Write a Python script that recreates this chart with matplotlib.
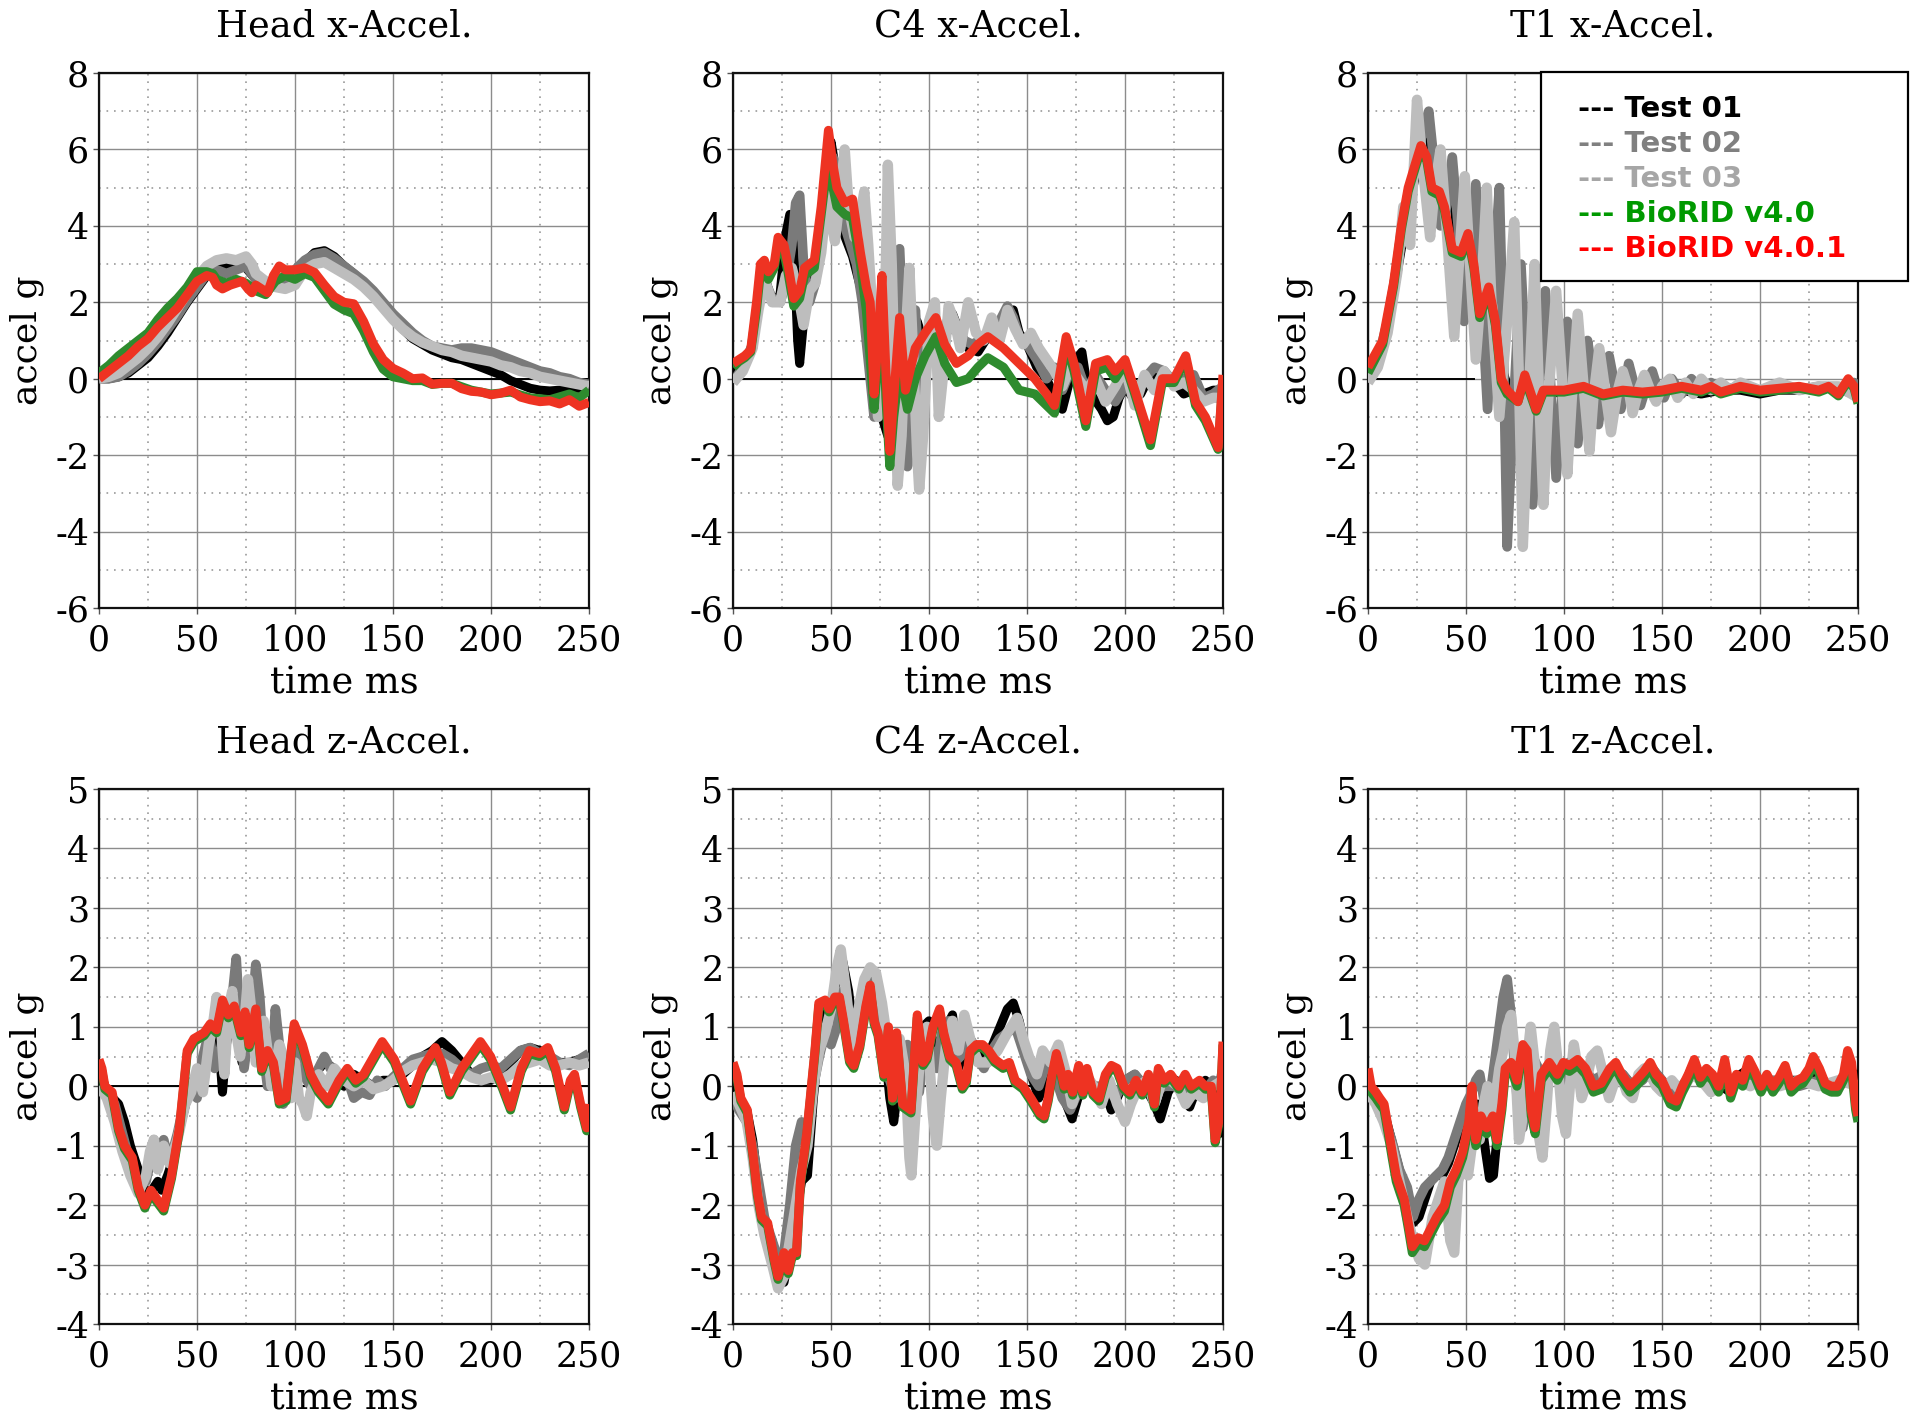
import matplotlib
matplotlib.use("Agg")
import matplotlib.pyplot as plt
from matplotlib.patches import Rectangle
from matplotlib.ticker import MultipleLocator

plt.rcParams["axes.unicode_minus"] = False

# ---------------- data (time ms, accel g) ----------------
titles = ["Head x-Accel.", "C4 x-Accel.", "T1 x-Accel.",
          "Head z-Accel.", "C4 z-Accel.", "T1 z-Accel."]
series_names = ["Test 01", "Test 02", "Test 03", "BioRID v4.0", "BioRID v4.0.1"]
legend_labels = ["--- Test 01", "--- Test 02", "--- Test 03", "--- BioRID v4.0", "--- BioRID v4.0.1"]
x_ticks = [0, 50, 100, 150, 200, 250]
ylim_x = (-6, 8)
ylim_z = (-4, 5)
zero_line_end = [250, 250, 54, 250, 250, 57]

# Head x
hx_t01 = [(0,0.0),(5,0.0),(10,0.05),(15,0.15),(20,0.35),(25,0.55),(30,0.85),(35,1.2),(40,1.6),(45,2.0),(50,2.35),(55,2.7),(60,2.9),(65,3.0),(70,3.0),(75,2.9),(80,2.6),(85,2.4),(90,2.45),(95,2.55),(100,2.75),(105,3.05),(110,3.3),(115,3.35),(120,3.2),(125,2.95),(130,2.75),(135,2.5),(140,2.2),(145,1.9),(150,1.6),(155,1.3),(160,1.05),(165,0.9),(170,0.75),(175,0.65),(180,0.55),(185,0.5),(190,0.4),(195,0.3),(200,0.2),(205,0.1),(210,-0.05),(215,-0.15),(220,-0.25),(225,-0.3),(230,-0.32),(235,-0.3),(240,-0.25),(245,-0.25),(250,-0.3)]
hx_t02 = [(0,0.0),(5,0.0),(10,0.05),(15,0.2),(20,0.4),(25,0.65),(30,0.95),(35,1.3),(40,1.65),(45,2.05),(50,2.4),(55,2.75),(60,2.85),(65,2.75),(70,2.85),(75,2.95),(80,2.6),(85,2.45),(90,2.5),(95,2.6),(100,2.85),(105,3.1),(110,3.25),(115,3.3),(120,3.15),(125,2.95),(130,2.75),(135,2.55),(140,2.3),(145,2.0),(150,1.7),(155,1.45),(160,1.2),(165,1.0),(170,0.85),(175,0.8),(180,0.75),(185,0.8),(190,0.8),(195,0.75),(200,0.7),(205,0.6),(210,0.5),(215,0.4),(220,0.3),(225,0.2),(230,0.15),(235,0.05),(240,0.0),(245,-0.1),(250,-0.15)]
hx_t03 = [(0,0.0),(5,0.05),(10,0.15),(15,0.35),(20,0.55),(25,0.8),(30,1.1),(35,1.45),(40,1.85),(45,2.25),(50,2.65),(55,2.95),(60,3.1),(65,3.15),(70,3.1),(75,3.2),(78,3.0),(80,2.75),(85,2.55),(90,2.4),(95,2.35),(100,2.45),(105,2.85),(110,3.0),(115,3.05),(120,2.9),(125,2.75),(130,2.6),(135,2.4),(140,2.15),(145,1.85),(150,1.55),(155,1.3),(160,1.1),(165,0.95),(170,0.85),(175,0.75),(180,0.7),(185,0.6),(190,0.55),(195,0.5),(200,0.45),(205,0.35),(210,0.3),(215,0.2),(220,0.15),(225,0.05),(230,0.0),(235,-0.05),(240,-0.1),(245,-0.15),(250,-0.2)]
hx_v40 = [(0,0.15),(5,0.35),(10,0.6),(15,0.8),(20,1.0),(25,1.2),(30,1.55),(35,1.85),(40,2.1),(45,2.4),(50,2.8),(55,2.8),(58,2.75),(60,2.6),(65,2.5),(70,2.6),(75,2.5),(80,2.3),(85,2.2),(90,2.55),(95,2.7),(100,2.6),(105,2.75),(110,2.65),(115,2.3),(120,1.95),(125,1.8),(130,1.7),(135,1.25),(140,0.7),(145,0.25),(150,0.05),(155,0.0),(160,-0.05),(165,-0.05),(170,-0.15),(175,-0.12),(180,-0.12),(190,-0.3),(200,-0.4),(210,-0.35),(220,-0.5),(230,-0.55),(240,-0.4),(245,-0.5),(250,-0.3)]
hx_v401 = [(0,0.0),(5,0.2),(10,0.4),(15,0.6),(20,0.85),(25,1.05),(30,1.35),(35,1.6),(40,1.85),(45,2.2),(50,2.55),(55,2.7),(58,2.65),(60,2.45),(63,2.35),(67,2.45),(70,2.5),(73,2.55),(76,2.35),(78,2.25),(80,2.45),(83,2.35),(86,2.25),(89,2.7),(92,2.95),(95,2.85),(100,2.85),(105,2.9),(110,2.78),(115,2.45),(120,2.15),(125,2.0),(130,1.96),(135,1.5),(140,0.91),(145,0.5),(150,0.27),(155,0.15),(160,0.0),(165,0.02),(170,-0.14),(175,-0.12),(180,-0.12),(185,-0.26),(190,-0.33),(195,-0.35),(200,-0.42),(205,-0.38),(210,-0.3),(215,-0.48),(220,-0.55),(225,-0.6),(230,-0.58),(235,-0.66),(240,-0.55),(245,-0.72),(250,-0.62)]

# C4 x
cx_t01 = [(0,0.2),(5,0.4),(10,0.8),(13,2.0),(16,2.7),(20,2.0),(24,2.2),(27,3.8),(29,4.3),(31,3.5),(33,1.0),(34,0.4),(36,1.5),(39,2.6),(42,2.8),(45,3.5),(48,5.5),(50,6.2),(52,5.6),(55,4.0),(58,3.6),(61,3.2),(64,2.6),(67,2.0),(70,0.5),(73,-0.5),(76,-1.0),(79,-1.5),(82,-0.3),(85,-1.0),(88,0.5),(91,-1.3),(94,1.5),(97,1.0),(100,1.2),(104,1.4),(108,1.0),(112,1.7),(115,1.3),(120,0.8),(125,0.7),(130,1.1),(135,1.4),(140,1.7),(143,1.8),(146,1.2),(150,0.9),(155,0.3),(160,0.0),(165,-0.6),(168,-0.8),(171,-0.2),(175,0.5),(178,0.7),(181,-0.3),(184,-0.5),(188,-0.8),(191,-1.1),(194,-1.0),(197,-0.5),(200,-0.2),(204,-0.5),(208,-0.4),(212,0.0),(216,0.1),(220,0.1),(225,-0.1),(230,-0.4),(235,-0.3),(240,-0.4),(245,-0.3),(250,-0.3)]
cx_t02 = [(0,-0.1),(5,0.3),(10,0.9),(13,2.0),(16,2.6),(20,2.1),(24,2.0),(27,2.5),(30,3.5),(32,4.6),(34,4.8),(36,3.0),(39,2.0),(42,2.5),(45,3.8),(48,5.0),(51,5.8),(54,5.2),(57,4.0),(60,3.5),(63,3.0),(66,2.0),(69,0.5),(72,-1.0),(75,-0.5),(78,0.5),(82,1.0),(85,3.4),(87,1.0),(89,-2.3),(91,-1.0),(93,1.8),(96,-0.5),(99,0.8),(102,1.2),(106,1.0),(110,1.6),(114,1.4),(118,1.0),(122,0.9),(126,1.0),(130,1.2),(135,1.4),(140,1.9),(143,1.6),(146,1.1),(150,0.9),(155,0.5),(160,0.0),(164,0.3),(168,-0.3),(172,0.2),(176,0.3),(180,-0.3),(185,0.1),(190,-0.3),(195,-0.6),(200,-0.2),(205,-0.3),(210,0.0),(215,0.3),(220,0.2),(225,-0.1),(230,0.0),(235,0.1),(240,-0.5),(245,-0.4),(250,-0.2)]
cx_t03 = [(0,-0.1),(5,0.2),(10,0.8),(13,1.8),(16,2.6),(20,2.0),(24,2.0),(27,2.7),(30,2.9),(33,2.3),(36,1.4),(39,2.3),(42,2.5),(45,3.3),(48,4.8),(50,4.2),(52,3.6),(54,4.5),(57,6.0),(59,4.5),(62,3.7),(65,4.3),(67,4.9),(69,3.5),(72,1.0),(74,-1.0),(76,0.0),(78,3.0),(79,5.6),(81,3.0),(83,-1.0),(84,-2.8),(86,-1.5),(88,1.0),(90,2.9),(92,0.5),(94,-2.0),(95,-2.9),(97,-1.5),(100,1.5),(103,2.0),(105,-1.0),(107,0.0),(110,1.9),(113,1.5),(116,0.8),(120,2.0),(124,1.2),(128,1.0),(132,1.6),(136,1.0),(140,1.8),(144,1.3),(148,0.9),(152,1.2),(156,0.8),(160,0.5),(164,0.2),(168,-0.2),(172,0.3),(176,0.0),(180,-0.3),(185,0.0),(190,-0.6),(195,-0.2),(200,0.3),(205,-0.7),(210,0.1),(215,-0.3),(220,0.2),(225,-0.2),(230,-0.1),(235,-0.3),(240,-0.6),(245,-0.5),(250,-0.5)]
cx_v40 = [(0,0.3),(3,0.45),(6,0.55),(9,0.7),(12,1.8),(14,2.8),(16,2.9),(18,2.6),(21,2.9),(23,3.5),(26,3.3),(28,2.8),(31,1.9),(34,2.1),(36.5,2.7),(41.5,2.9),(45,4.3),(48.7,5.8),(51,5.0),(53,4.5),(57,4.3),(61,4.2),(65,3.0),(68,1.8),(70,0.5),(72,-0.8),(74,0.5),(76,2.3),(78,-0.5),(80,-2.3),(82,-1.0),(85,0.3),(89,-0.8),(93,0.0),(98,0.6),(103.5,1.1),(108,0.4),(114,-0.1),(120,0.0),(125,0.3),(130,0.55),(138,0.3),(146,-0.3),(154,-0.4),(160,-0.7),(164,-0.9),(167,0.0),(170,0.9),(174,0.2),(180,-1.25),(185,0.2),(191,0.3),(195,0.0),(200,0.4),(205,-0.4),(213,-1.75),(219,-0.1),(225,-0.1),(231,0.5),(236,-0.7),(241,-1.1),(247.5,-1.85),(250,0.0)]
cx_v401 = [(0,0.4),(3,0.5),(6,0.6),(9,0.75),(12,2.0),(14,3.0),(16,3.1),(18,2.8),(21,3.0),(23,3.7),(26,3.5),(28,3.0),(31,2.1),(34,2.3),(36.5,2.9),(41.5,3.1),(45,4.5),(48.7,6.5),(51,5.6),(53,5.0),(57,4.6),(61,4.7),(65,3.3),(68,2.4),(70,2.0),(72,-0.4),(74,1.0),(76,2.7),(78,0.2),(80,-1.9),(82,-0.5),(85,1.6),(88,-0.3),(93,0.8),(98,1.2),(103.5,1.6),(108,0.9),(114,0.4),(120,0.6),(125,0.9),(130,1.1),(138,0.8),(146,0.4),(154,0.0),(160,-0.4),(164,-0.7),(167,0.2),(170,1.1),(174,0.4),(180,-1.1),(185,0.4),(191,0.5),(195,0.2),(200,0.5),(205,-0.3),(213,-1.6),(219,0.0),(225,0.0),(231,0.6),(236,-0.6),(241,-1.0),(247.5,-1.8),(250,0.1)]

# T1 x
tx_t01 = [(0,0.0),(5,0.4),(10,1.3),(15,2.8),(20,4.3),(25,5.5),(30,6.2),(33,5.5),(36,4.5),(40,4.8),(44,4.0),(48,3.2),(52,3.5),(56,2.5),(60,2.0),(64,1.5),(68,0.3),(72,-0.3),(76,-0.6),(80,0.0),(85,-0.7),(90,-0.3),(100,-0.4),(110,-0.3),(120,-0.4),(130,-0.3),(140,-0.4),(150,-0.3),(160,-0.3),(170,-0.4),(180,-0.3),(190,-0.3),(200,-0.4),(210,-0.3),(220,-0.3),(230,-0.2),(240,-0.3),(250,-0.4)]
tx_t02 = [(0,0.0),(5,0.5),(10,1.5),(15,3.0),(20,4.5),(24,5.5),(28,6.5),(31,7.0),(34,5.5),(37,4.0),(40,4.5),(43,5.8),(46,4.0),(49,1.5),(52,3.0),(55,5.1),(58,2.0),(61,-0.8),(64,2.5),(67,5.0),(69,1.0),(71,-4.4),(74,-1.0),(78,3.0),(81,0.0),(84,-3.3),(87,-0.5),(90.5,2.3),(93,0.0),(96,-2.6),(99,-0.5),(101.7,1.5),(104,0.0),(107,-1.7),(110,-0.3),(112,1.0),(115,0.0),(117.5,-1.2),(120,-0.3),(123,0.6),(126,-0.2),(129,-0.8),(131,-0.2),(133,0.4),(136,-0.2),(139,-0.7),(142,-0.2),(145,0.2),(148,-0.3),(151,-0.5),(155,0.0),(160,-0.4),(165,0.0),(170,-0.3),(175,-0.1),(180,-0.3),(190,-0.2),(200,-0.3),(210,-0.2),(220,-0.3),(230,-0.2),(240,-0.3),(248,-0.1),(250,-0.5)]
tx_t03 = [(0,-0.1),(5,0.3),(10,1.2),(15,2.8),(18,4.5),(21.5,3.5),(25,7.3),(28,5.5),(31.7,3.7),(34,5.0),(37,6.0),(40,4.0),(44,1.1),(47,3.5),(49.4,5.3),(52,3.0),(55,0.5),(58,2.5),(60.6,5.0),(63,2.0),(67,-1.0),(71,1.5),(74.6,4.1),(77,0.0),(79,-4.4),(82,-0.5),(85,3.0),(87,0.0),(89.5,-3.3),(92,-0.5),(96,2.3),(99,0.0),(101.7,-2.5),(104,-0.5),(107,1.7),(110,-0.2),(113,-1.9),(115,-0.5),(118,0.8),(121,-0.3),(124,-1.4),(127,-0.4),(130,0.2),(133,-0.3),(135,-0.9),(138,-0.3),(141,0.1),(144,-0.3),(147,-0.6),(150,-0.2),(154,0.0),(158,-0.5),(162,-0.1),(166,-0.4),(170,0.0),(175,-0.3),(180,-0.1),(185,-0.3),(190,-0.1),(200,-0.3),(210,-0.1),(220,-0.3),(230,-0.2),(240,-0.2),(250,-0.5)]
tx_v40 = [(0,0.15),(7.5,0.9),(13,2.4),(17,3.9),(20.5,4.9),(24,5.5),(27,6.0),(30,5.7),(32.6,4.9),(36.4,4.8),(39,4.4),(43,3.3),(47.5,3.2),(51,3.7),(54,2.9),(57,1.6),(61.6,2.3),(65,1.4),(68,-0.1),(71,-0.4),(76.5,-0.6),(80,0.0),(85.8,-0.85),(89.5,-0.35),(100,-0.35),(110,-0.25),(120,-0.45),(130,-0.35),(140,-0.4),(150,-0.35),(160,-0.25),(170,-0.35),(175,-0.25),(180,-0.4),(190,-0.25),(200,-0.35),(210,-0.3),(220,-0.25),(230,-0.35),(235,-0.25),(240,-0.45),(245,-0.05),(248,-0.25),(250,-0.65)]
tx_v401 = [(0,0.3),(7.5,1.0),(13,2.5),(17,4.0),(20.5,5.0),(24,5.6),(27,6.1),(30,5.8),(32.6,5.0),(36.4,4.9),(39,4.5),(43,3.4),(47.5,3.3),(51,3.8),(54,3.0),(57,1.7),(61.6,2.4),(65,1.5),(68,0.0),(71,-0.3),(76.5,-0.6),(80,0.1),(85.8,-0.8),(89.5,-0.3),(100,-0.3),(110,-0.2),(120,-0.4),(130,-0.3),(140,-0.35),(150,-0.3),(160,-0.2),(170,-0.3),(175,-0.2),(180,-0.35),(190,-0.2),(200,-0.3),(210,-0.25),(220,-0.2),(230,-0.3),(235,-0.2),(240,-0.4),(245,0.0),(248,-0.2),(250,-0.6)]

# Head z
hz_t01 = [(0,0.3),(3,0.0),(7,-0.2),(10,-0.3),(13,-0.6),(16,-1.0),(20,-1.4),(24,-1.8),(27,-1.75),(30,-1.6),(32,-1.75),(35,-1.5),(38,-1.2),(42,-0.6),(45,-0.2),(48,0.1),(51,0.0),(54,0.3),(57,0.5),(59,1.0),(61,0.8),(63,-0.1),(65,0.7),(67,1.1),(70,0.9),(73,0.4),(76,0.6),(79,1.0),(82,0.7),(86,0.4),(90,0.3),(95,0.2),(100,0.5),(105,0.3),(110,0.2),(115,0.4),(120,0.3),(125,0.0),(130,0.2),(135,0.1),(140,0.0),(145,0.1),(150,0.1),(155,0.2),(160,0.35),(165,0.5),(170,0.6),(175,0.75),(180,0.6),(185,0.4),(190,0.2),(195,0.1),(200,0.1),(205,0.2),(210,0.4),(215,0.6),(220,0.65),(225,0.6),(230,0.45),(235,0.4),(240,0.4),(245,0.45),(250,0.5)]
hz_t02 = [(0,0.0),(4,-0.1),(8,-0.3),(12,-0.8),(16,-1.3),(20,-1.7),(24,-1.6),(26,-1.3),(28,-0.9),(30,-1.2),(33,-0.9),(36,-1.3),(40,-0.8),(44,-0.2),(47,0.0),(50,-0.2),(53,0.5),(56,0.9),(59,0.3),(62,0.6),(65,1.2),(68,1.5),(70,2.15),(72,1.0),(74,0.3),(76,0.8),(78,1.2),(80,2.05),(82,1.5),(84,0.5),(86,0.0),(88,0.3),(90,1.3),(92,0.7),(94,-0.3),(96,0.0),(98,0.4),(100,0.6),(104,0.2),(108,0.0),(112,0.3),(115,0.5),(118,0.3),(122,0.1),(126,0.2),(130,-0.2),(134,-0.1),(138,-0.15),(142,0.1),(146,0.0),(150,0.15),(155,0.3),(160,0.45),(165,0.5),(170,0.55),(175,0.55),(180,0.45),(185,0.3),(190,0.2),(195,0.3),(200,0.35),(205,0.3),(210,0.45),(215,0.6),(220,0.65),(225,0.55),(230,0.5),(235,0.4),(240,0.35),(245,0.45),(250,0.55)]
hz_t03 = [(0,0.0),(4,-0.2),(8,-0.6),(12,-1.1),(16,-1.5),(20,-1.8),(24,-1.5),(26,-1.1),(28,-0.9),(30,-1.4),(33,-1.0),(36,-1.3),(40,-0.9),(44,-0.3),(47,-0.1),(50,0.3),(53,-0.1),(56,0.7),(58,1.0),(60,1.5),(62,1.1),(64,0.2),(66,1.3),(68,1.6),(70,0.9),(72,0.5),(74,1.0),(76,1.8),(78,1.2),(80,0.4),(82,0.7),(84,1.1),(86,0.6),(88,0.0),(90,0.3),(92,0.7),(94,0.5),(96,0.0),(98,-0.2),(100,0.4),(102,-0.2),(104,-0.3),(106,-0.5),(108,-0.1),(112,0.2),(116,0.0),(120,0.3),(125,0.1),(130,0.0),(135,0.1),(140,-0.05),(145,0.0),(150,0.1),(155,0.25),(160,0.35),(165,0.4),(170,0.45),(175,0.4),(180,0.3),(185,0.25),(190,0.15),(195,0.1),(200,0.15),(205,0.1),(210,0.2),(215,0.35),(220,0.4),(225,0.45),(230,0.35),(235,0.35),(240,0.4),(245,0.35),(250,0.4)]
hz_v40 = [(0,0.4),(1.5,0.25),(3,-0.05),(6.7,-0.15),(10,-0.75),(13,-1.05),(17,-1.25),(20,-1.75),(23.4,-2.05),(26.5,-1.8),(29.6,-1.95),(33,-2.1),(37,-1.55),(41,-0.75),(45,0.55),(48.4,0.75),(53.6,0.85),(56.8,1.0),(60,0.9),(63,1.4),(66,1.15),(69,1.3),(72.4,0.85),(74.5,1.2),(76.6,0.65),(80,1.25),(83,0.25),(86,0.55),(89,0.35),(92,-0.3),(95.4,-0.25),(99.6,1.0),(103.8,0.65),(108,0.15),(112,-0.1),(117,-0.3),(122.5,0.05),(126.7,0.25),(131,0.05),(135,0.15),(144.5,0.7),(150.7,0.4),(156,-0.05),(159,-0.3),(165,0.25),(171.6,0.6),(174.7,0.35),(179,-0.15),(185,0.25),(194.6,0.7),(199.8,0.45),(206,-0.05),(210,-0.4),(215.4,0.25),(219.6,0.55),(224.8,0.5),(229,0.6),(233,0.25),(237.4,-0.4),(240.5,0.05),(242.6,0.15),(245.7,-0.35),(248.8,-0.75),(250,-0.35)]
hz_v401 = [(0,0.45),(1.5,0.3),(3,0.0),(6.7,-0.1),(10,-0.7),(13,-1.0),(17,-1.2),(20,-1.7),(23.4,-2.0),(26.5,-1.75),(29.6,-1.9),(33,-2.05),(37,-1.5),(41,-0.7),(45,0.6),(48.4,0.8),(53.6,0.9),(56.8,1.05),(60,0.95),(63,1.45),(66,1.2),(69,1.35),(72.4,0.9),(74.5,1.25),(76.6,0.7),(80,1.3),(83,0.3),(86,0.6),(89,0.4),(92,-0.25),(95.4,-0.2),(99.6,1.05),(103.8,0.7),(108,0.2),(112,-0.05),(117,-0.25),(122.5,0.1),(126.7,0.3),(131,0.1),(135,0.2),(144.5,0.75),(150.7,0.45),(156,0.0),(159,-0.25),(165,0.3),(171.6,0.65),(174.7,0.4),(179,-0.1),(185,0.3),(194.6,0.75),(199.8,0.5),(206,0.0),(210,-0.35),(215.4,0.3),(219.6,0.6),(224.8,0.55),(229,0.65),(233,0.3),(237.4,-0.35),(240.5,0.1),(242.6,0.2),(245.7,-0.3),(248.8,-0.7),(250,-0.3)]

# C4 z
cz_t01 = [(0,0.0),(3,-0.3),(7,-0.4),(10,-0.9),(13,-1.7),(16,-2.3),(20,-2.6),(23,-3.1),(26,-3.3),(29,-2.8),(32,-2.2),(35,-1.6),(38,-1.5),(41,-0.2),(44,0.8),(47,1.2),(50,1.4),(53,1.8),(56,2.1),(59,1.6),(62,0.8),(65,1.0),(68,1.6),(71,1.9),(74,1.6),(77,0.8),(80,-0.2),(82,-0.6),(85,0.2),(88,0.5),(91,-0.2),(94,0.0),(97,1.0),(100,1.1),(103,0.5),(106,0.8),(109,1.0),(112,1.2),(115,0.3),(118,0.6),(121,0.8),(125,0.6),(130,0.5),(135,0.9),(140,1.3),(143,1.4),(146,1.1),(150,0.5),(153,0.1),(156,-0.2),(160,0.1),(165,0.4),(170,-0.3),(173,-0.55),(176,-0.2),(180,0.0),(185,-0.1),(190,-0.1),(193,-0.4),(196,-0.2),(200,0.1),(205,0.2),(210,0.0),(215,-0.3),(218,-0.55),(222,-0.1),(226,0.1),(230,-0.2),(233,-0.35),(237,0.0),(241,0.1),(245,-0.1),(248,-0.8),(250,0.2)]
cz_t02 = [(0,-0.2),(3,-0.4),(7,-0.6),(10,-1.0),(13,-1.6),(16,-2.2),(20,-2.6),(23,-2.9),(26,-2.8),(29,-2.0),(32,-1.0),(35,-0.6),(38,-0.9),(41,0.0),(44,0.5),(47,0.9),(50,0.7),(53,1.0),(56,1.6),(59,0.9),(62,0.5),(65,1.1),(68,1.5),(71,1.8),(74,1.2),(77,0.6),(80,0.1),(83,-0.2),(86,0.5),(89,0.7),(92,0.0),(95,-0.1),(98,0.8),(101,0.6),(104,0.3),(107,1.0),(110,1.1),(113,0.4),(116,0.5),(120,0.7),(124,0.5),(128,0.3),(132,0.6),(136,0.8),(140,0.9),(144,1.0),(148,0.6),(152,0.2),(156,0.0),(160,0.4),(164,0.2),(168,-0.2),(172,-0.4),(176,-0.1),(180,0.1),(185,0.0),(190,0.0),(195,-0.2),(200,0.1),(205,0.2),(210,0.0),(215,-0.1),(220,0.0),(225,0.0),(230,-0.1),(235,0.0),(240,-0.1),(245,0.1),(248,0.0),(250,0.3)]
cz_t03 = [(0,-0.1),(3,-0.3),(7,-0.6),(10,-1.2),(13,-2.0),(16,-2.5),(20,-3.0),(23,-3.4),(26,-3.2),(29,-2.6),(32,-2.0),(35,-1.4),(38,-1.0),(41,0.0),(44,0.6),(47,0.9),(50,1.3),(53,2.0),(55,2.3),(58,1.5),(61,0.6),(64,1.3),(67,1.8),(70,2.0),(73,1.9),(76,1.4),(79,0.7),(82,0.2),(85,0.8),(88,0.2),(90,-1.2),(91,-1.5),(93,-0.5),(96,0.7),(99,1.0),(102,-0.5),(104,-1.0),(106,-0.2),(109,0.8),(112,1.1),(115,0.6),(118,1.2),(121,0.8),(125,0.4),(130,0.4),(135,0.6),(140,0.9),(145,1.15),(148,0.8),(151,0.5),(155,0.2),(158,0.6),(162,0.4),(166,0.7),(170,0.2),(173,-0.3),(176,0.0),(180,0.2),(184,0.0),(188,-0.3),(192,0.1),(196,-0.3),(200,-0.6),(203,-0.3),(207,0.0),(211,0.1),(215,-0.3),(219,0.1),(223,0.1),(227,0.0),(231,-0.3),(235,-0.1),(240,-0.2),(245,0.0),(250,0.1)]
cz_v40 = [(0,0.35),(2,0.15),(4,-0.25),(7.3,-0.45),(10.4,-1.25),(12.5,-1.85),(14.6,-2.25),(17.7,-2.35),(21,-2.95),(23,-3.25),(26,-2.85),(28.2,-3.15),(30.3,-2.85),(32.4,-2.85),(34.4,-1.65),(37.6,-0.85),(39.7,-0.15),(41.8,0.55),(43.8,1.35),(47,1.4),(49,1.25),(52,1.45),(54.3,1.45),(56.4,1.05),(59.5,0.4),(61.6,0.3),(64.7,0.65),(67.8,1.3),(70,1.65),(72,1.05),(74,0.85),(77,0.15),(79.3,0.95),(81.4,-0.25),(83.5,0.85),(86.6,-0.35),(90.8,-0.45),(94,1.15),(97,0.35),(99,0.45),(102,0.95),(105.4,1.25),(107.5,0.85),(110.6,0.45),(113.8,0.35),(117,-0.05),(119,0.05),(121,0.55),(124.2,0.65),(127.3,0.65),(130.5,0.55),(133.6,0.4),(137.8,0.3),(141,0.35),(144,0.05),(148,-0.05),(152,-0.25),(156.6,-0.5),(158.7,-0.55),(160.8,-0.25),(162.8,0.15),(165,0.5),(167,0.25),(169,-0.05),(171,0.15),(173.3,-0.15),(176.4,0.3),(178.5,-0.15),(180.6,0.25),(183.7,-0.15),(186.8,-0.25),(190,0.15),(193,0.3),(196,0.25),(199.4,-0.05),(202.5,-0.15),(205.6,0.05),(208.8,-0.15),(212,0.15),(215,-0.35),(217,0.25),(220,0.05),(223.3,0.15),(227.5,-0.05),(230.7,0.15),(233.8,-0.05),(238,0.05),(241,-0.05),(244,-0.05),(246,-0.95),(248.4,-0.55),(250,0.7)]
cz_v401 = [(0,0.4),(2,0.2),(4,-0.2),(7.3,-0.4),(10.4,-1.2),(12.5,-1.8),(14.6,-2.2),(17.7,-2.3),(21,-2.9),(23,-3.2),(26,-2.8),(28.2,-3.1),(30.3,-2.8),(32.4,-2.8),(34.4,-1.6),(37.6,-0.8),(39.7,-0.1),(41.8,0.6),(43.8,1.4),(47,1.45),(49,1.3),(52,1.5),(54.3,1.5),(56.4,1.1),(59.5,0.45),(61.6,0.35),(64.7,0.7),(67.8,1.35),(70,1.7),(72,1.1),(74,0.9),(77,0.2),(79.3,1.0),(81.4,-0.2),(83.5,0.9),(86.6,-0.3),(90.8,-0.4),(94,1.2),(97,0.4),(99,0.5),(102,1.0),(105.4,1.3),(107.5,0.9),(110.6,0.5),(113.8,0.4),(117,0.0),(119,0.1),(121,0.6),(124.2,0.7),(127.3,0.7),(130.5,0.6),(133.6,0.45),(137.8,0.35),(141,0.4),(144,0.1),(148,0.0),(152,-0.2),(156.6,-0.45),(158.7,-0.5),(160.8,-0.2),(162.8,0.2),(165,0.55),(167,0.3),(169,0.0),(171,0.2),(173.3,-0.1),(176.4,0.35),(178.5,-0.1),(180.6,0.3),(183.7,-0.1),(186.8,-0.2),(190,0.2),(193,0.35),(196,0.3),(199.4,0.0),(202.5,-0.1),(205.6,0.1),(208.8,-0.1),(212,0.2),(215,-0.3),(217,0.3),(220,0.1),(223.3,0.2),(227.5,0.0),(230.7,0.2),(233.8,0.0),(238,0.1),(241,0.0),(244,0.0),(246,-0.9),(248.4,-0.5),(250,0.75)]

# T1 z
tz_t01 = [(0,0.0),(4,-0.2),(8,-0.4),(12,-0.9),(16,-1.4),(20,-1.8),(23,-2.3),(26,-2.2),(29,-1.9),(32,-1.6),(35,-1.5),(38,-1.5),(41,-1.3),(44,-1.0),(47,-0.7),(50,-0.5),(53,-0.4),(56,-0.3),(58,-0.6),(60,-1.1),(62,-1.55),(64,-1.5),(66,-0.8),(68,0.0),(70,0.3),(73,0.4),(76,0.1),(79,0.5),(82,0.2),(85,-0.3),(88,0.2),(92,0.3),(96,0.2),(100,0.35),(105,0.45),(110,0.3),(115,0.1),(120,0.1),(125,0.3),(130,0.2),(135,0.0),(140,0.2),(145,0.3),(150,0.1),(155,-0.1),(160,-0.1),(165,0.3),(170,0.2),(175,0.1),(180,0.0),(185,-0.1),(190,0.2),(195,0.3),(200,0.1),(205,0.0),(210,0.1),(215,0.1),(220,0.1),(225,0.2),(230,0.2),(235,0.0),(240,0.0),(245,0.2),(250,0.2)]
tz_t02 = [(0,0.0),(4,-0.2),(8,-0.5),(12,-0.9),(16,-1.4),(20,-1.7),(23,-2.2),(26,-1.9),(29,-1.7),(32,-1.6),(35,-1.5),(38,-1.4),(41,-1.2),(44,-0.9),(47,-0.6),(50,-0.3),(53,-0.1),(55,0.1),(57,0.2),(59,-0.2),(61,-0.5),(63,0.0),(65,0.5),(67,1.0),(69,1.5),(71,1.8),(73,1.2),(75,0.2),(77,-0.5),(79,-0.7),(81,-0.1),(84,0.5),(87,0.3),(90,0.0),(93,0.4),(96,0.5),(99,0.1),(102,0.2),(105,0.4),(110,0.3),(115,0.1),(120,0.2),(125,0.3),(130,0.2),(135,0.0),(140,0.1),(145,0.3),(150,0.1),(155,-0.1),(160,0.0),(165,0.2),(170,0.2),(175,0.0),(180,0.1),(185,0.0),(190,0.1),(195,0.2),(200,0.1),(210,0.1),(220,0.0),(230,0.1),(240,0.0),(245,0.1),(250,0.0)]
tz_t03 = [(0,-0.1),(4,-0.3),(8,-0.6),(12,-1.0),(16,-1.6),(20,-2.2),(23,-2.6),(26,-2.9),(29,-3.0),(31,-2.6),(33,-2.2),(36,-1.9),(39,-1.6),(42,-2.6),(44,-2.8),(46,-1.6),(49,-1.2),(51,-1.5),(53,-1.0),(55,-0.6),(57,-0.9),(59,-0.3),(61,0.0),(63,-0.5),(65,-0.2),(67,0.3),(69,0.6),(71,1.0),(73,1.2),(75,0.5),(77,-0.9),(79,-0.5),(81,0.4),(83,1.0),(85,0.4),(87,-0.8),(89,-1.2),(91,-0.4),(93,0.6),(95,1.0),(97,0.3),(99,-0.5),(101,-0.8),(103,0.0),(105,0.7),(107,0.3),(109,-0.2),(111,0.0),(114,0.5),(117,0.6),(120,0.2),(123,-0.2),(126,0.1),(129,0.2),(132,-0.1),(135,-0.2),(138,0.2),(141,0.3),(144,0.2),(147,0.0),(150,-0.1),(155,0.1),(160,-0.1),(165,0.2),(170,0.1),(175,-0.1),(180,0.1),(185,0.0),(190,0.1),(195,0.0),(200,0.1),(210,0.0),(220,0.1),(230,0.0),(240,0.1),(250,0.0)]
tz_v40 = [(0,0.2),(1.6,-0.1),(4,-0.2),(6,-0.3),(8.2,-0.4),(10.3,-0.8),(12.3,-1.2),(14.4,-1.6),(16.4,-1.8),(18.5,-2.0),(20.6,-2.4),(22.6,-2.8),(25.7,-2.65),(28.8,-2.7),(31.9,-2.5),(35,-2.3),(39,-2.1),(42,-1.7),(45,-1.5),(48.3,-1.2),(51.4,-0.7),(53,-0.1),(55,-1.0),(57.6,-0.6),(60.6,-0.8),(63.7,-0.6),(65.8,-1.0),(68.3,-0.4),(70,0.2),(73,0.3),(76,0.0),(79,0.6),(81.2,0.5),(83.3,-0.5),(85.3,-0.8),(88.4,0.1),(92.5,0.3),(96.6,0.1),(99.7,0.3),(102.8,0.25),(107,0.35),(111,0.2),(115,-0.1),(119,-0.05),(123.4,0.2),(126.4,0.3),(129.5,0.1),(133.6,-0.1),(136.7,0.0),(140.8,0.15),(144,0.3),(147,0.1),(150,0.0),(154.2,-0.3),(157.3,-0.35),(160.4,-0.1),(163.4,0.1),(166.5,0.35),(169.6,0.05),(172.7,0.2),(175.8,0.1),(178.9,-0.1),(182,0.35),(185,-0.2),(188,0.1),(191.2,0.0),(194.3,0.35),(197.4,0.15),(200.5,-0.1),(203.5,0.1),(206.6,-0.1),(209.7,0.05),(212.8,0.25),(215.9,-0.1),(219,0.0),(222,0.05),(225,0.2),(227.2,0.4),(230.3,0.2),(233.3,-0.05),(236.4,-0.1),(239.5,-0.1),(242.6,0.1),(244.7,0.5),(246.7,0.3),(248.8,-0.4),(250,-0.6)]
tz_v401 = [(0,0.3),(1.6,0.0),(4,-0.1),(6,-0.2),(8.2,-0.3),(10.3,-0.7),(12.3,-1.1),(14.4,-1.5),(16.4,-1.7),(18.5,-1.9),(20.6,-2.3),(22.6,-2.7),(25.7,-2.55),(28.8,-2.6),(31.9,-2.4),(35,-2.2),(39,-2.0),(42,-1.6),(45,-1.4),(48.3,-1.1),(51.4,-0.6),(53,0.0),(55,-0.9),(57.6,-0.5),(60.6,-0.7),(63.7,-0.5),(65.8,-0.9),(68.3,-0.3),(70,0.3),(73,0.4),(76,0.1),(79,0.7),(81.2,0.6),(83.3,-0.4),(85.3,-0.7),(88.4,0.2),(92.5,0.4),(96.6,0.2),(99.7,0.4),(102.8,0.35),(107,0.45),(111,0.3),(115,0.0),(119,0.05),(123.4,0.3),(126.4,0.4),(129.5,0.2),(133.6,0.0),(136.7,0.1),(140.8,0.25),(144,0.4),(147,0.2),(150,0.1),(154.2,-0.2),(157.3,-0.25),(160.4,0.0),(163.4,0.2),(166.5,0.45),(169.6,0.15),(172.7,0.3),(175.8,0.2),(178.9,0.0),(182,0.45),(185,-0.1),(188,0.2),(191.2,0.1),(194.3,0.45),(197.4,0.25),(200.5,0.0),(203.5,0.2),(206.6,0.0),(209.7,0.15),(212.8,0.35),(215.9,0.0),(219,0.1),(222,0.15),(225,0.3),(227.2,0.5),(230.3,0.3),(233.3,0.05),(236.4,0.0),(239.5,0.0),(242.6,0.2),(244.7,0.6),(246.7,0.4),(248.8,-0.3),(250,-0.5)]

panels = [
    [hx_t01, hx_t02, hx_t03, hx_v40, hx_v401],
    [cx_t01, cx_t02, cx_t03, cx_v40, cx_v401],
    [tx_t01, tx_t02, tx_t03, tx_v40, tx_v401],
    [hz_t01, hz_t02, hz_t03, hz_v40, hz_v401],
    [cz_t01, cz_t02, cz_t03, cz_v40, cz_v401],
    [tz_t01, tz_t02, tz_t03, tz_v40, tz_v401],
]

# ---------------- style ----------------
line_colors = ["#000000", "#7a7a7a", "#bdbdbd", "#2e8b2e", "#ee3322"]
line_widths = [6.5, 7.0, 7.5, 6.5, 6.5]
legend_colors = ["#000000", "#808080", "#a6a6a6", "#009900", "#ff0000"]

W, H = 1913, 1417
fig = plt.figure(figsize=(W / 100, H / 100), dpi=100)
fig.patch.set_facecolor("white")

col_left = [99, 733, 1368]
row_top = [73, 789]
ax_w, ax_h = 490, 535

serif = ["DejaVu Serif"]
for i, title in enumerate(titles):
    r, c = divmod(i, 3)
    l, t = col_left[c], row_top[r]
    ax = fig.add_axes([l / W, 1 - (t + ax_h) / H, ax_w / W, ax_h / H])
    is_x = r == 0
    ylim = ylim_x if is_x else ylim_z
    ystep = 2 if is_x else 1
    ax.set_xlim(0, 250)
    ax.set_ylim(*ylim)
    ax.xaxis.set_major_locator(MultipleLocator(50))
    ax.xaxis.set_minor_locator(MultipleLocator(25))
    ax.yaxis.set_major_locator(MultipleLocator(ystep))
    ax.yaxis.set_minor_locator(MultipleLocator(ystep / 2))
    ax.grid(True, which="major", color="#8c8c8c", linewidth=1.0)
    ax.grid(True, which="minor", color="#9a9a9a", linewidth=1.2, linestyle=(0, (1, 3.5)))
    ax.set_axisbelow(True)
    ax.tick_params(which="major", direction="out", length=4, width=1, color="#555555",
                   labelsize=25, pad=3)
    ax.tick_params(axis="x", which="major", pad=7)
    ax.tick_params(which="minor", length=0)
    for lab in ax.get_xticklabels() + ax.get_yticklabels():
        lab.set_family(serif)
    for sp in ax.spines.values():
        sp.set_color("#111111")
        sp.set_linewidth(1.6)

    ax.plot([0, zero_line_end[i]], [0, 0], color="black", linewidth=1.4, zorder=2)

    for data, col, lw in zip(panels[i], line_colors, line_widths):
        tt = [p[0] for p in data]
        vv = [p[1] for p in data]
        ax.plot(tt, vv, color=col, linewidth=lw, solid_joinstyle="round",
                solid_capstyle="butt", zorder=3)

    ax.set_title(title, fontsize=26.5, family=serif, pad=26)
    ax.set_xlabel("time ms", fontsize=26.5, family=serif, labelpad=6)
    ax.set_ylabel("accel g", fontsize=26, family=serif, labelpad=8)

# ---------------- legend box ----------------
lx0, ly0, lx1, ly1 = 1541, 72, 1908, 281
fig.patches.append(Rectangle((lx0 / W, 1 - ly1 / H), (lx1 - lx0) / W, (ly1 - ly0) / H,
                             transform=fig.transFigure, facecolor="white",
                             edgecolor="black", linewidth=1.6, zorder=10))
row_y = [109, 144, 179, 214, 249]
for lab, col, yy in zip(legend_labels, legend_colors, row_y):
    fig.text(1578 / W, 1 - yy / H, lab, color=col, fontsize=21, fontweight="bold",
             family=["DejaVu Sans"], ha="left", va="center", zorder=11)

fig.savefig("out.png", dpi=100, facecolor="white")
